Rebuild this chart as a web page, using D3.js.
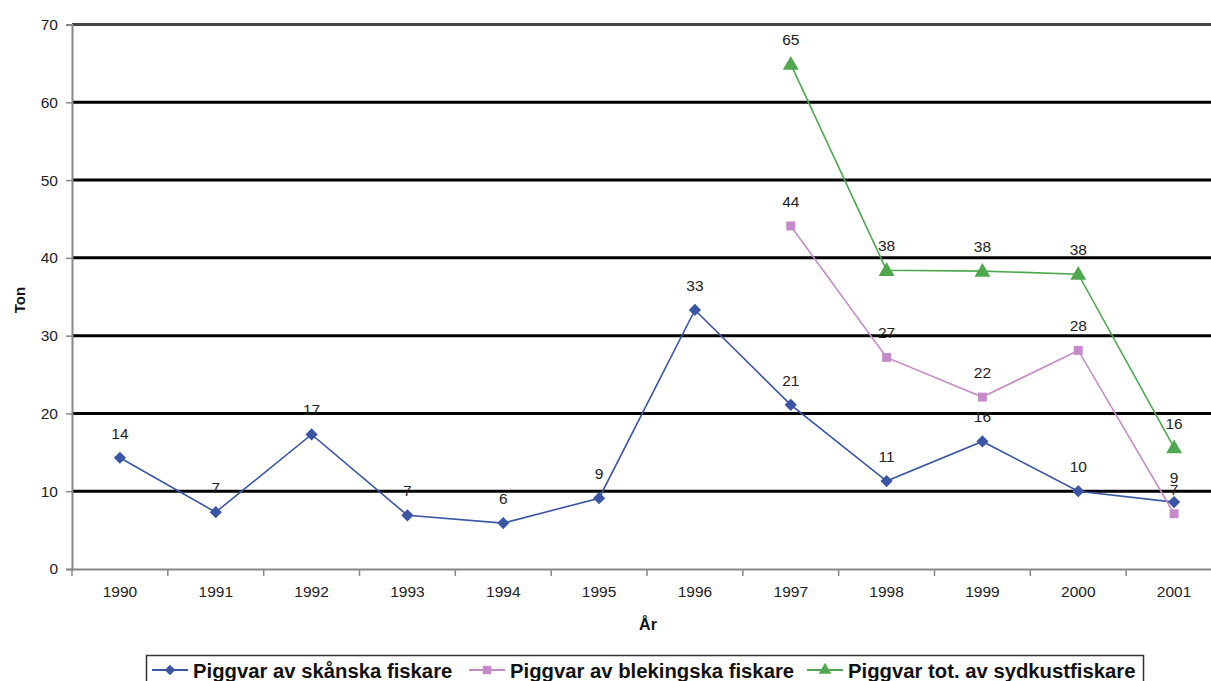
<!DOCTYPE html>
<html><head><meta charset="utf-8">
<script src="https://cdn.jsdelivr.net/npm/d3@7"></script>
<style>
body{margin:0;background:#fff;}
svg{display:block;font-family:Arial,"Liberation Sans",Helvetica,sans-serif;}
</style></head>
<body><svg id="chart" width="1211" height="681"></svg>
<script>
const years = [1990,1991,1992,1993,1994,1995,1996,1997,1998,1999,2000,2001];
const skanska = [14.3,7.3,17.3,6.9,5.9,9.1,33.3,21.1,11.3,16.4,10.0,8.6];
const blekingska = [null,null,null,null,null,null,null,44.1,27.2,22.1,28.1,7.1];
const sydkust = [null,null,null,null,null,null,null,64.9,38.4,38.3,37.9,15.6];
const yTicks = [0,10,20,30,40,50,60,70];
const seriesNames = ["Piggvar av skånska fiskare","Piggvar av blekingska fiskare","Piggvar tot. av sydkustfiskare"];
const seriesColors = ["#3b55a6","#c48bc6","#4fa84f"];
const seriesSymbols = [d3.symbolDiamond2, d3.symbolSquare, d3.symbolTriangle];

(function(){
const svg = d3.select("#chart");
const pLeft = 72, pRight = 1222, pTop = 24.5, pBottom = 569;
const x = d3.scaleBand().domain(years).range([pLeft, pRight]).padding(0);
const y = d3.scaleLinear().domain([0,70]).range([pBottom, pTop]);

// gridlines
svg.append("g").selectAll("line").data(yTicks.filter(t=>t>0)).join("line")
  .attr("x1", pLeft).attr("x2", pRight)
  .attr("y1", d=>y(d)).attr("y2", d=>y(d))
  .attr("stroke", d=> d===70 ? "#444" : "#000").attr("stroke-width", 3);

// y axis
const ya = svg.append("g").attr("transform",`translate(${pLeft},0)`)
  .call(d3.axisLeft(y).tickValues(yTicks).tickSize(6).tickPadding(8));
ya.select(".domain").attr("stroke","#888").attr("stroke-width",2);
ya.selectAll(".tick line").attr("stroke","#888").attr("stroke-width",1.5);
ya.selectAll(".tick text").attr("font-size",15.5).attr("fill","#222").attr("font-family","Arial,'Liberation Sans',sans-serif");

// x axis
const xa = svg.append("g").attr("transform",`translate(0,${pBottom})`)
  .call(d3.axisBottom(x).tickSize(0).tickPadding(17));
xa.select(".domain").attr("stroke","#888").attr("stroke-width",2);
xa.selectAll(".tick text").attr("font-size",15.5).attr("fill","#222").attr("font-family","Arial,'Liberation Sans',sans-serif");
svg.append("g").selectAll("line").data(years.map(d=>x(d)).concat([pRight])).join("line")
  .attr("x1", d=>d).attr("x2", d=>d).attr("y1", pBottom).attr("y2", pBottom+7)
  .attr("stroke","#888").attr("stroke-width",1.5);

// axis titles
svg.append("text").attr("transform",`translate(25,300) rotate(-90)`).attr("text-anchor","middle")
  .attr("font-size",15).attr("font-weight","bold").attr("fill","#111").text("Ton");
svg.append("text").attr("x",648).attr("y",630).attr("text-anchor","middle")
  .attr("font-size",16).attr("font-weight","bold").attr("fill","#111").text("År");

// series
const allSeries = [skanska, blekingska, sydkust];
const line = d3.line().defined(d=>d.v!=null).x(d=>x(d.year)+x.bandwidth()/2).y(d=>y(d.v));
const sizes = [95, 80, 110];
allSeries.forEach((vals,i)=>{
  const data = years.map((yr,j)=>({year:yr, v:vals[j]}));
  const g = svg.append("g");
  g.append("path").datum(data).attr("d", line).attr("fill","none")
    .attr("stroke", seriesColors[i]).attr("stroke-width",1.6);
  g.selectAll("path.m").data(data.filter(d=>d.v!=null)).join("path").attr("class","m")
    .attr("d", d3.symbol().type(seriesSymbols[i]).size(sizes[i]))
    .attr("transform", d=>`translate(${x(d.year)+x.bandwidth()/2},${y(d.v) + (i===2?1:0)})`)
    .attr("fill", seriesColors[i]);
  g.selectAll("text").data(data.filter(d=>d.v!=null)).join("text")
    .attr("x", d=>x(d.year)+x.bandwidth()/2)
    .attr("y", d=>y(d.v)-19)
    .attr("text-anchor","middle").attr("font-size",15.5).attr("fill","#222")
    .text(d=>Math.round(d.v));
});

// legend
const lg = svg.append("g");
lg.append("rect").attr("x",146.5).attr("y",655.5).attr("width",997).attr("height",40)
  .attr("fill","#fff").attr("stroke","#333").attr("stroke-width",1.5);
const itemX = [152, 469, 807];
seriesNames.forEach((name,i)=>{
  const gx = itemX[i];
  lg.append("line").attr("x1",gx).attr("x2",gx+36).attr("y1",670).attr("y2",670)
    .attr("stroke",seriesColors[i]).attr("stroke-width",2);
  lg.append("path").attr("d", d3.symbol().type(seriesSymbols[i]).size(70))
    .attr("transform",`translate(${gx+18},670)`).attr("fill",seriesColors[i]);
  lg.append("text").attr("x",gx+41).attr("y",678).attr("font-size",20.3).attr("font-weight","bold")
    .attr("fill","#111").text(name);
});
})();
</script></body></html>
